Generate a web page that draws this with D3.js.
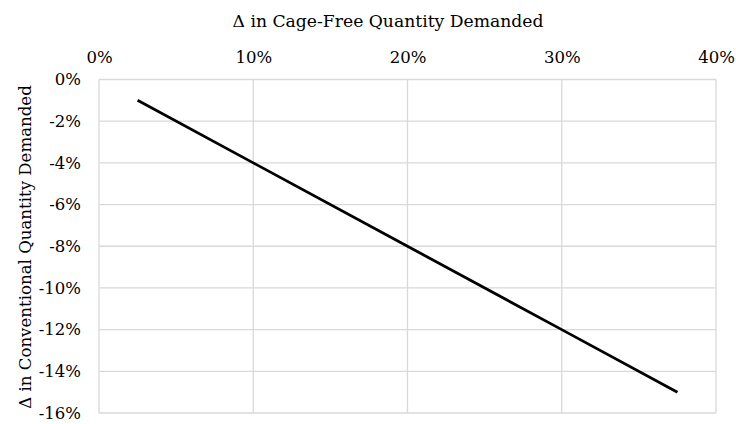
<!DOCTYPE html>
<html>
<head>
<meta charset="utf-8">
<script src="https://cdn.jsdelivr.net/npm/d3@7"></script>
<style>
  body { margin: 0; background: #fff; }
  text { font-family: "DejaVu Serif", serif; fill: #000; }
</style>
</head>
<body>
<div id="chart"></div>
<script>
// change in cage-free quantity demanded (%) vs change in conventional (%)
const cageFree = [2.5, 10, 20, 30, 37.5];
const conventional = [-1, -4, -8, -12, -15];
const xTicks = [0, 10, 20, 30, 40];
const yTicks = [0, -2, -4, -6, -8, -10, -12, -14, -16];

const svgWidth = 736, svgHeight = 424;
const margin = { top: 79.5, right: 20, bottom: 11, left: 99 };
const width = svgWidth - margin.left - margin.right;
const height = svgHeight - margin.top - margin.bottom;

const svg = d3.select('#chart').append('svg')
  .attr('width', svgWidth)
  .attr('height', svgHeight);

const g = svg.append('g')
  .attr('transform', `translate(${margin.left},${margin.top})`);

const x = d3.scaleLinear().domain([0, 40]).range([0, width]);
const y = d3.scaleLinear().domain([0, -16]).range([0, height]);

// grid
g.selectAll('.vgrid').data(xTicks).enter().append('line')
  .attr('x1', d => x(d)).attr('x2', d => x(d))
  .attr('y1', 0).attr('y2', height)
  .attr('stroke', '#d9d9d9').attr('stroke-width', 1.3);
g.selectAll('.hgrid').data(yTicks).enter().append('line')
  .attr('y1', d => y(d)).attr('y2', d => y(d))
  .attr('x1', 0).attr('x2', width)
  .attr('stroke', '#d9d9d9').attr('stroke-width', 1.3);

// axes (labels only)
const xAxis = g.append('g')
  .call(d3.axisTop(x).tickValues(xTicks).tickFormat(d => d + '%').tickSize(0).tickPadding(16.5));
const yAxis = g.append('g')
  .call(d3.axisLeft(y).tickValues(yTicks).tickFormat(d => d + '%').tickSize(0).tickPadding(18));
[xAxis, yAxis].forEach(a => {
  a.select('.domain').remove();
  a.selectAll('text').style('font-family', '"DejaVu Serif", serif').style('font-size', '16.5px').attr('fill', '#000');
});

// data line
const pts = cageFree.map((v, i) => [v, conventional[i]]);
g.append('path')
  .datum(pts)
  .attr('fill', 'none')
  .attr('stroke', '#000')
  .attr('stroke-width', 2.8)
  .attr('d', d3.line().x(d => x(d[0])).y(d => y(d[1])));

// titles
svg.append('text')
  .attr('x', 388).attr('y', 27)
  .attr('text-anchor', 'middle')
  .style('font-size', '17.2px')
  .text('Δ in Cage-Free Quantity Demanded');

svg.append('text')
  .attr('transform', 'translate(31,247) rotate(-90)')
  .attr('text-anchor', 'middle')
  .style('font-size', '16.6px')
  .text('Δ in Conventional Quantity Demanded');
</script>
</body>
</html>
